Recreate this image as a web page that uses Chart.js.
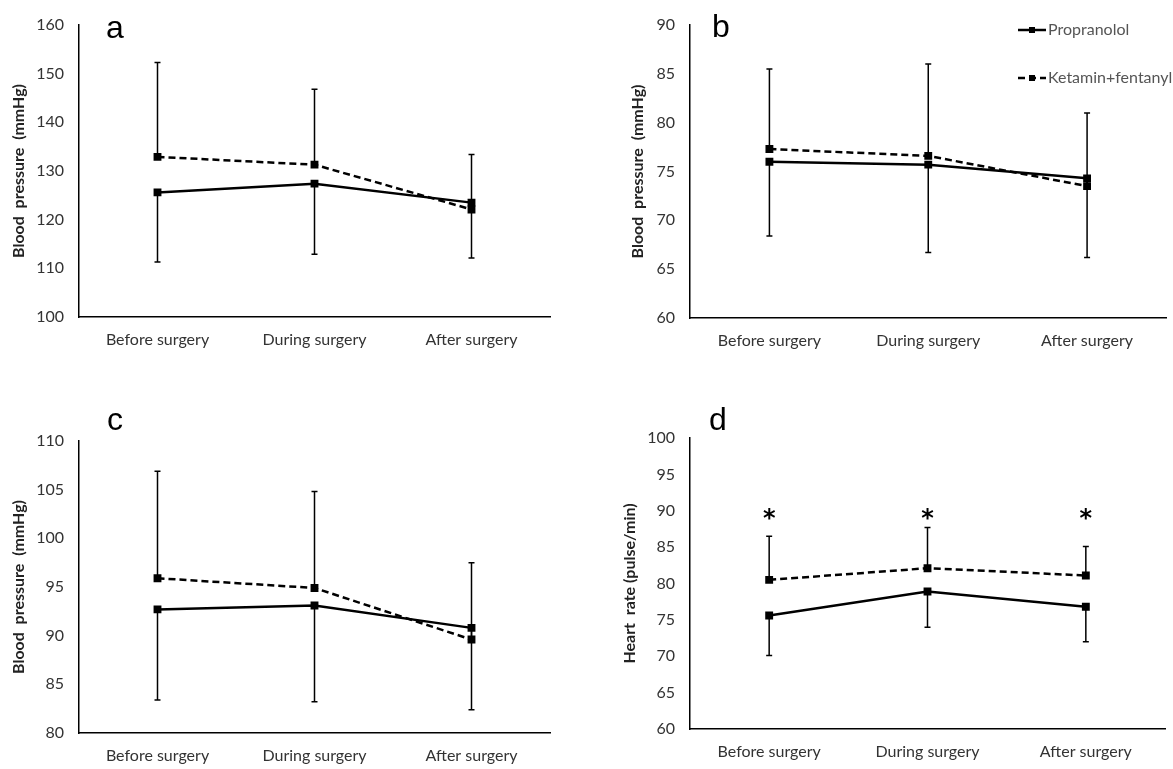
<!DOCTYPE html>
<html>
<head>
<meta charset="UTF-8">
<title>Propranolol vs Ketamin+fentanyl</title>
<script src="https://cdn.jsdelivr.net/npm/chart.js"></script>
<style>
  body { margin: 0; background: #fff; }
  .panel { position: absolute; }
</style>
</head>
<body>
<div class="panel" style="left:0;top:0"><canvas id="pa" width="580" height="385"></canvas></div>
<div class="panel" style="left:590px;top:0"><canvas id="pb" width="583" height="385"></canvas></div>
<div class="panel" style="left:0;top:385px"><canvas id="pc" width="580" height="384"></canvas></div>
<div class="panel" style="left:590px;top:385px"><canvas id="pd" width="583" height="384"></canvas></div>
<script>
  // categories shared by all four panels
  const categories = ['Before surgery', 'During surgery', 'After surgery'];
  const seriesNames = ['Propranolol', 'Ketamin+fentanyl'];

  // a - blood pressure (systolic)
  const propA = [125.6, 127.4, 123.5];
  const ketA = [132.9, 131.3, 122.1];
  const propA_sd = [14.3, 14.5, 11.4];
  const ketA_sd = [19.4, 15.5, 11.3];

  // b - blood pressure (diastolic)
  const propB = [76.0, 75.7, 74.3];
  const ketB = [77.3, 76.6, 73.5];
  const propB_sd = [7.6, 9.0, 8.1];
  const ketB_sd = [8.2, 9.4, 7.5];

  // c - blood pressure (mean)
  const propC = [92.7, 93.1, 90.8];
  const ketC = [95.9, 94.9, 89.6];
  const propC_sd = [9.3, 9.9, 8.4];
  const ketC_sd = [11.0, 9.9, 7.9];

  // d - heart rate
  const propD = [75.6, 78.9, 76.8];
  const ketD = [80.5, 82.1, 81.1];
  const propD_sd = [5.5, 4.9, 4.8];
  const ketD_sd = [6.0, 5.6, 4.0];
  const sigD = [89.5, 89.5, 89.5]; // where the * sits

  const FONT = 'Lato, "Open Sans", sans-serif';

  // one sided error bars: ketamin goes up, propranolol goes down
  const errorBars = {
    id: 'errorBars',
    afterDatasetsDraw(chart) {
      const ctx = chart.ctx;
      const x = chart.scales.x, y = chart.scales.y;
      ctx.save();
      ctx.strokeStyle = '#000';
      ctx.lineWidth = 1.5;
      chart.data.datasets.forEach(ds => {
        if (!ds.sd) return;
        ds.data.forEach((v, i) => {
          const px = x.getPixelForValue(i);
          const y0 = y.getPixelForValue(v);
          const y1 = y.getPixelForValue(v + ds.sdDir * ds.sd[i]);
          ctx.beginPath();
          ctx.moveTo(px, y0);
          ctx.lineTo(px, y1);
          ctx.moveTo(px - 3, y1);
          ctx.lineTo(px + 3, y1);
          ctx.stroke();
        });
      });
      ctx.restore();
    }
  };

  const extras = {
    id: 'extras',
    afterDraw(chart, args, opts) {
      const ctx = chart.ctx;
      ctx.save();
      if (opts.letter) {
        ctx.fillStyle = '#000';
        ctx.font = '32px "Liberation Sans Narrow", "Liberation Sans", sans-serif';
        ctx.textBaseline = 'alphabetic';
        ctx.fillText(opts.letter[0], opts.letter[1], opts.letter[2]);
      }
      if (opts.stars) {
        ctx.fillStyle = '#000';
        ctx.font = 'bold 24px "DejaVu Sans", sans-serif';
        ctx.textAlign = 'center';
        ctx.textBaseline = 'middle';
        opts.stars.forEach((v, i) => {
          ctx.fillText('*', chart.scales.x.getPixelForValue(i), chart.scales.y.getPixelForValue(v) + 5);
        });
      }
      if (opts.legend) {
        const [lx, ly, gap] = opts.legend;
        chart.data.datasets.forEach((ds, k) => {
          const yy = ly + k * gap;
          ctx.strokeStyle = '#000';
          ctx.lineWidth = 2.5;
          ctx.setLineDash(ds.borderDash || []);
          ctx.beginPath();
          ctx.moveTo(lx, yy);
          ctx.lineTo(lx + 28, yy);
          ctx.stroke();
          ctx.setLineDash([]);
          ctx.fillStyle = '#000';
          ctx.fillRect(lx + 11, yy - 3, 6, 6);
          ctx.fillStyle = '#555';
          ctx.font = '16px ' + FONT;
          ctx.textBaseline = 'middle';
          ctx.fillText(ds.label, lx + 30, yy);
        });
      }
      ctx.restore();
    }
  };

  function makePanel(id, cfg) {
    const datasets = [
      {
        label: seriesNames[0], data: cfg.prop, sd: cfg.propSd, sdDir: -1,
        borderColor: '#000', backgroundColor: '#000', borderWidth: 2.5,
        pointStyle: 'rect', pointRadius: 3.8, tension: 0
      },
      {
        label: seriesNames[1], data: cfg.ket, sd: cfg.ketSd, sdDir: 1,
        borderColor: '#000', backgroundColor: '#000', borderWidth: 2.5, borderDash: [7, 4],
        pointStyle: 'rect', pointRadius: 3.8, tension: 0
      }
    ];
    return new Chart(document.getElementById(id), {
      type: 'line',
      data: { labels: categories, datasets: datasets },
      options: {
        responsive: false,
        animation: false,
        layout: { padding: { top: cfg.top, right: cfg.right, left: 0, bottom: 0 } },
        plugins: {
          legend: { display: false },
          tooltip: { enabled: false },
          extras: { letter: cfg.letter, stars: cfg.stars, legend: cfg.legend }
        },
        scales: {
          x: {
            offset: true,
            grid: { display: false, drawTicks: false },
            border: { display: true, color: '#000', width: 1.5 },
            ticks: { color: '#333', font: { family: FONT, size: 16 }, padding: 13, maxRotation: 0 },
            afterFit: s => { s.height = cfg.xH; }
          },
          y: {
            min: cfg.min, max: cfg.max,
            grid: { display: false, drawTicks: false },
            border: { display: true, color: '#000', width: 1.5 },
            ticks: { stepSize: cfg.step, color: '#333', font: { family: FONT, size: 16 }, padding: 15 },
            title: {
              display: true, text: cfg.title, color: '#222',
              font: { family: FONT, size: 16, weight: 'bold' },
              padding: { top: cfg.titlePad, bottom: 0 }
            },
            afterFit: s => { s.width = cfg.yW; }
          }
        }
      },
      plugins: [errorBars, extras]
    });
  }

  makePanel('pa', {
    prop: propA, ket: ketA, propSd: propA_sd, ketSd: ketA_sd,
    min: 100, max: 160, step: 10, title: 'Blood  pressure  (mmHg)',
    top: 25, right: 30, yW: 79, xH: 68, titlePad: 9, letter: ['a', 106, 38]
  });
  makePanel('pb', {
    prop: propB, ket: ketB, propSd: propB_sd, ketSd: ketB_sd,
    min: 60, max: 90, step: 5, title: 'Blood  pressure  (mmHg)',
    top: 25, right: 0, yW: 100, xH: 67, titlePad: 38, letter: ['b', 122, 37],
    legend: [428, 30, 48]
  });
  makePanel('pc', {
    prop: propC, ket: ketC, propSd: propC_sd, ketSd: ketC_sd,
    min: 80, max: 110, step: 5, title: 'Blood  pressure  (mmHg)',
    top: 56, right: 30, yW: 79, xH: 36, titlePad: 9, letter: ['c', 107, 45]
  });
  makePanel('pd', {
    prop: propD, ket: ketD, propSd: propD_sd, ketSd: ketD_sd,
    min: 60, max: 100, step: 5, title: 'Heart  rate (pulse/min)',
    top: 53, right: 8, yW: 100, xH: 40, titlePad: 30, letter: ['d', 119, 45], stars: sigD
  });
</script>
</body>
</html>
